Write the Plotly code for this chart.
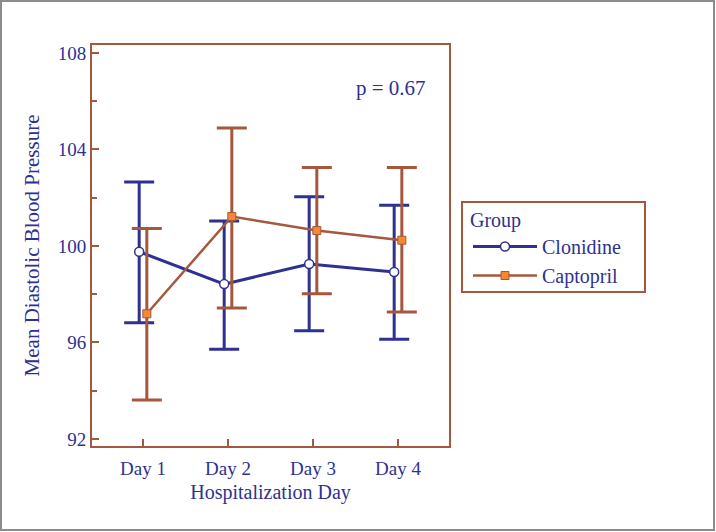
import plotly.graph_objects as go

days = ["Day 1", "Day 2", "Day 3", "Day 4"]

clon_mean = [99.76, 98.42, 99.25, 98.92]
clon_upper = [102.65, 101.04, 102.04, 101.69]
clon_lower = [96.82, 95.72, 96.49, 96.13]

capt_mean = [97.19, 101.22, 100.64, 100.24]
capt_upper = [100.72, 104.89, 103.25, 103.25]
capt_lower = [93.62, 97.43, 98.02, 97.26]

y_ticks = [92, 96, 100, 104, 108]
p_text = "p = 0.67"

NAVY = "#2E3192"
BROWN = "#A4583D"
ORANGE = "#F7882F"
FONT = "Liberation Serif"

W, H = 716, 532
ML, MR, MT, MB = 92, 267, 45, 86

xs = list(range(len(days)))
dodge = 0.045

fig = go.Figure()
fig.add_trace(go.Scatter(
    x=[i - dodge for i in xs], y=clon_mean, name="Clonidine",
    mode="lines+markers",
    line=dict(color=NAVY, width=3),
    marker=dict(symbol="circle", size=9, color="white", line=dict(color=NAVY, width=1.5)),
    error_y=dict(type="data", symmetric=False,
                 array=[u - m for u, m in zip(clon_upper, clon_mean)],
                 arrayminus=[m - l for m, l in zip(clon_mean, clon_lower)],
                 color=NAVY, thickness=3, width=15),
))
fig.add_trace(go.Scatter(
    x=[i + dodge for i in xs], y=capt_mean, name="Captopril",
    mode="lines+markers",
    line=dict(color=BROWN, width=2.5),
    marker=dict(symbol="square", size=8, color=ORANGE, line=dict(color=BROWN, width=1)),
    error_y=dict(type="data", symmetric=False,
                 array=[u - m for u, m in zip(capt_upper, capt_mean)],
                 arrayminus=[m - l for m, l in zip(capt_mean, capt_lower)],
                 color=BROWN, thickness=3, width=15),
))

pw = W - ML - MR
ph = H - MT - MB

def px_x(px):
    return (px - ML) / pw

def px_y(py):
    return (H - MB - py) / ph

fig.update_layout(
    width=W, height=H,
    margin=dict(l=ML, r=MR, t=MT, b=MB),
    paper_bgcolor="white", plot_bgcolor="white",
    font=dict(family=FONT, color=NAVY, size=19),
    showlegend=True,
    legend=dict(
        title=dict(text="Group", font=dict(size=20, color=NAVY, family=FONT)),
        font=dict(size=20, color=NAVY, family=FONT),
        borderwidth=0, bgcolor="rgba(0,0,0,0)",
        x=px_x(468), y=px_y(201),
        xanchor="left", yanchor="top",
        tracegroupgap=0, itemwidth=64,
    ),
    xaxis=dict(
        range=[-0.6, 3.6],
        tickvals=xs, ticktext=days,
        showline=True, linecolor=BROWN, linewidth=2, mirror=True,
        ticks="inside", ticklen=7, tickwidth=2, tickcolor=BROWN,
        showgrid=False, zeroline=False,
        ticklabelstandoff=4,
        tickfont=dict(size=19, color=NAVY, family=FONT),
        title=dict(text="Hospitalization Day", font=dict(size=20, color=NAVY, family=FONT), standoff=7),
    ),
    yaxis=dict(
        range=[91.71, 108.33],
        tickvals=y_ticks,
        showline=True, linecolor=BROWN, linewidth=2, mirror=True,
        ticks="inside", ticklen=7, tickwidth=2, tickcolor=BROWN,
        minor=dict(dtick=2, tick0=92, ticks="inside", ticklen=5, tickwidth=2, tickcolor=BROWN),
        showgrid=False, zeroline=False,
        tickfont=dict(size=19, color=NAVY, family=FONT),
        title=dict(text="Mean Diastolic Blood Pressure", font=dict(size=21, color=NAVY, family=FONT), standoff=12),
    ),
    annotations=[dict(
        text=p_text, xref="paper", yref="paper",
        x=px_x(391), y=px_y(88),
        xanchor="center", yanchor="middle", showarrow=False,
        font=dict(size=21, color=NAVY, family=FONT),
    )],
    shapes=[
        dict(
            type="rect", xref="paper", yref="paper",
            x0=px_x(1), x1=px_x(W - 2),
            y0=px_y(H - 2), y1=px_y(1),
            line=dict(color="#8C8C8C", width=2), layer="below",
        ),
        dict(
            type="rect", xref="paper", yref="paper",
            x0=px_x(462), x1=px_x(645),
            y0=px_y(292), y1=px_y(202),
            line=dict(color=BROWN, width=2), layer="below",
        ),
    ],
)

fig.write_html("out.html", config={"displayModeBar": False},
               post_script="document.body.style.margin='0';")
